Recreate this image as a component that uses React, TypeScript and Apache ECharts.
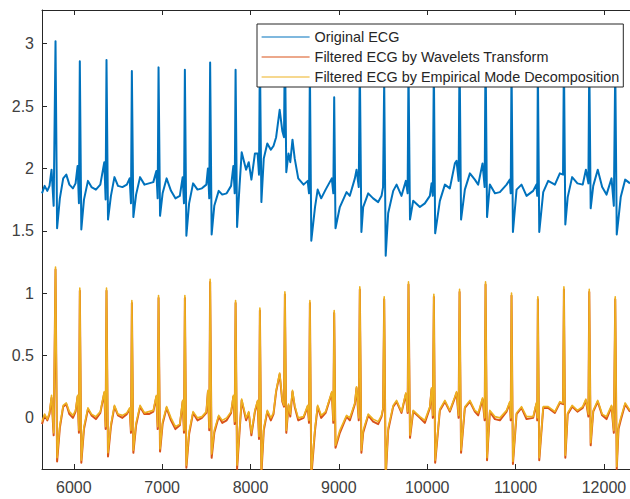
import React, { useEffect, useRef } from "react";
import * as echarts from "echarts";

// Sample positions (x) shared by the three traces
const sampleTimes = [
  5640, 5670, 5700, 5725,
  5748, 5772, 5793, 5811, 5842, 5880, 5915, 5950, 5990, 6020,
  6043, 6058, 6068, 6085, 6115, 6160, 6200, 6250, 6300,
  6345, 6360, 6370, 6387, 6420, 6460, 6500, 6550, 6600,
  6632, 6647, 6657, 6674, 6705, 6750, 6800, 6850, 6900,
  6934, 6949, 6959, 6976, 7005, 7050, 7100, 7150, 7200,
  7232, 7247, 7257, 7274, 7305, 7350, 7400, 7450, 7500,
  7518, 7533, 7543, 7560, 7590, 7640, 7680, 7730, 7780,
  7806, 7821, 7831, 7848, 7875, 7900, 7950, 7980, 8010, 8050, 8080,
  8096, 8106, 8123, 8150, 8190, 8230, 8260, 8290, 8330, 8360, 8379,
  8389, 8405, 8430, 8450, 8475, 8500, 8540, 8600, 8647, 8662,
  8672, 8688, 8730, 8760, 8800, 8850, 8920, 8937,
  8947, 8962, 9011, 9087, 9124, 9181, 9200, 9225,
  9237, 9255, 9275, 9332, 9388, 9445, 9483, 9500,
  9513, 9530, 9558, 9615, 9653, 9709, 9758, 9778,
  9788, 9805, 9841, 9917, 9973, 10030, 10049, 10063,
  10075, 10090, 10143, 10200, 10256, 10313, 10332, 10355,
  10366, 10383, 10426, 10483, 10539, 10577, 10626, 10650,
  10660, 10677, 10709, 10766, 10822, 10898, 10935, 10945,
  10954, 10970, 11011, 11067, 11124, 11199, 11235, 11245,
  11252, 11268, 11313, 11369, 11445, 11501, 11537,
  11547, 11563, 11590, 11640, 11700, 11760, 11796, 11824,
  11834, 11850, 11879, 11930, 11980, 12029, 12086, 12112,
  12128, 12145, 12165, 12190, 12240, 12295,
];

const originalEcg = [
  1.80, 1.86, 1.82, 1.86,
  1.99, 1.70, 3.02, 1.52, 1.76, 1.92, 1.95, 1.87, 1.84, 1.88,
  2.02, 1.72, 2.86, 1.51, 1.75, 1.90, 1.85, 1.83, 1.87,
  2.05, 1.75, 2.87, 1.59, 1.78, 1.93, 1.86, 1.85, 1.87,
  1.92, 1.72, 2.78, 1.61, 1.79, 1.93, 1.87, 1.88, 1.89,
  1.98, 1.76, 2.81, 1.62, 1.80, 1.92, 1.82, 1.76, 1.78,
  1.93, 1.72, 2.79, 1.46, 1.72, 1.88, 1.83, 1.84, 1.87,
  2.00, 1.76, 2.85, 1.47, 1.70, 1.82, 1.79, 1.80, 1.86,
  2.02, 1.80, 2.79, 1.53, 1.85, 2.13, 1.99, 2.05, 1.91, 2.12, 2.12,
  1.95, 2.95, 1.73, 2.08, 2.20, 2.15, 2.18, 2.25, 2.47, 2.30, 2.25,
  3.05, 1.97, 2.12, 2.05, 2.23, 2.08, 1.92, 1.87, 1.90, 1.80,
  2.80, 1.42, 1.69, 1.83, 1.76, 1.83, 1.92, 1.80,
  2.57, 1.52, 1.69, 1.81, 1.78, 1.92, 1.99, 1.85,
  2.85, 1.49, 1.69, 1.80, 1.76, 1.73, 1.78, 1.85,
  2.70, 1.30, 1.64, 1.82, 1.87, 1.78, 1.90, 1.80,
  2.82, 1.59, 1.74, 1.69, 1.72, 1.78, 1.88, 1.78,
  2.82, 1.48, 1.74, 1.87, 1.84, 2.04, 2.06, 1.90,
  2.93, 1.59, 1.83, 1.96, 1.91, 1.87, 2.04, 1.85,
  2.97, 1.61, 1.87, 1.80, 1.81, 1.87, 1.91, 1.80,
  2.85, 1.49, 1.83, 1.87, 1.78, 1.82, 1.87, 1.78,
  2.82, 1.49, 1.81, 1.90, 1.87, 1.96, 1.95,
  2.90, 1.55, 1.77, 1.93, 1.88, 1.87, 1.99, 1.88,
  2.88, 1.68, 1.86, 1.99, 1.85, 1.79, 1.92, 1.70,
  2.82, 1.47, 1.60, 1.77, 1.91, 1.88,
];

const waveletEcg = [
  -0.05, 0.02, -0.02, 0.03,
  0.16, -0.14, 1.19, -0.35, -0.08, 0.09, 0.11, 0.03, 0.00, 0.05,
  0.17, -0.12, 1.02, -0.36, -0.09, 0.07, 0.02, -0.01, 0.04,
  0.20, -0.09, 1.02, -0.31, -0.07, 0.09, 0.02, 0.00, 0.03,
  0.07, -0.12, 0.92, -0.28, -0.06, 0.09, 0.03, 0.03, 0.05,
  0.17, -0.09, 0.96, -0.27, -0.05, 0.08, -0.02, -0.09, -0.06,
  0.13, -0.12, 0.96, -0.40, -0.13, 0.04, -0.02, 0.00, 0.04,
  0.21, -0.10, 1.09, -0.32, -0.12, 0.01, -0.04, -0.02, 0.04,
  0.17, -0.05, 0.92, -0.41, -0.12, 0.14, -0.02, 0.04, -0.14, 0.05, 0.13,
  -0.17, 0.86, -0.45, -0.10, 0.05, -0.02, 0.03, 0.21, 0.35, 0.13, 0.09,
  0.99, -0.12, 0.10, 0.01, 0.21, 0.09, -0.02, 0.00, 0.09, -0.04,
  0.92, -0.47, -0.10, 0.09, 0.00, 0.04, 0.20, -0.04,
  0.84, -0.24, -0.12, 0.01, -0.02, 0.11, 0.24, -0.02,
  1.03, -0.28, -0.12, 0.02, -0.03, -0.05, 0.01, 0.07,
  0.95, -0.48, -0.10, 0.09, 0.13, 0.04, 0.19, 0.04,
  1.07, -0.16, 0.05, 0.00, -0.04, 0.08, 0.23, 0.00,
  0.97, -0.36, 0.06, 0.13, 0.05, 0.16, 0.20, 0.00,
  1.01, -0.28, 0.08, 0.13, 0.05, 0.02, 0.15, -0.02,
  1.07, -0.34, 0.05, -0.01, -0.02, 0.05, 0.12, -0.02,
  0.98, -0.37, 0.03, 0.08, -0.01, 0.00, 0.11, -0.02,
  0.95, -0.34, 0.08, 0.08, 0.04, 0.12, 0.11,
  1.03, -0.32, 0.03, 0.09, 0.05, 0.08, 0.14, 0.01,
  1.01, -0.22, 0.05, 0.13, 0.02, -0.01, 0.09, -0.12,
  0.95, -0.41, -0.09, -0.02, 0.11, 0.05,
];

const emdEcg = [
  -0.03, 0.03, -0.01, 0.04,
  0.18, -0.12, 1.21, -0.32, -0.06, 0.10, 0.12, 0.05, 0.02, 0.06,
  0.18, -0.10, 1.04, -0.34, -0.07, 0.08, 0.03, 0.01, 0.05,
  0.21, -0.07, 1.04, -0.28, -0.05, 0.10, 0.03, 0.02, 0.04,
  0.08, -0.10, 0.94, -0.26, -0.04, 0.10, 0.04, 0.05, 0.06,
  0.18, -0.07, 0.98, -0.25, -0.03, 0.09, 0.00, -0.07, -0.05,
  0.14, -0.10, 0.98, -0.38, -0.11, 0.05, 0.00, 0.01, 0.05,
  0.22, -0.08, 1.11, -0.29, -0.10, 0.02, -0.02, 0.00, 0.05,
  0.18, -0.03, 0.94, -0.38, -0.10, 0.15, 0.00, 0.05, -0.12, 0.06, 0.14,
  -0.15, 0.88, -0.42, -0.08, 0.06, 0.00, 0.04, 0.22, 0.36, 0.14, 0.10,
  1.01, -0.10, 0.11, 0.03, 0.22, 0.10, 0.00, 0.01, 0.10, -0.02,
  0.94, -0.44, -0.08, 0.10, 0.02, 0.05, 0.21, -0.02,
  0.86, -0.22, -0.10, 0.02, 0.00, 0.12, 0.25, 0.00,
  1.05, -0.26, -0.10, 0.03, -0.01, -0.03, 0.02, 0.08,
  0.97, -0.46, -0.08, 0.10, 0.14, 0.05, 0.20, 0.05,
  1.09, -0.14, 0.06, 0.01, -0.02, 0.09, 0.24, 0.02,
  0.99, -0.34, 0.07, 0.14, 0.06, 0.17, 0.21, 0.02,
  1.03, -0.26, 0.09, 0.14, 0.06, 0.04, 0.16, 0.00,
  1.09, -0.32, 0.06, 0.01, 0.00, 0.06, 0.13, 0.00,
  1.00, -0.35, 0.04, 0.09, 0.01, 0.01, 0.12, 0.00,
  0.97, -0.32, 0.09, 0.09, 0.05, 0.13, 0.12,
  1.05, -0.30, 0.04, 0.10, 0.06, 0.09, 0.15, 0.03,
  1.03, -0.20, 0.06, 0.14, 0.03, 0.01, 0.10, -0.10,
  0.97, -0.39, -0.07, 0.00, 0.12, 0.06,
];

const xTickValues = [6000, 7000, 8000, 9000, 10000, 11000, 12000];
const yTickValues = [0, 0.5, 1, 1.5, 2, 2.5, 3];
const seriesNames = [
  "Original ECG",
  "Filtered ECG by Wavelets Transform",
  "Filtered ECG by Empirical Mode Decomposition",
];
const seriesColors = ["#0072BD", "#D95319", "#EDB120"];

export default function App() {
  const ref = useRef<HTMLDivElement>(null);

  useEffect(() => {
    document.body.style.margin = "0";
    if (!ref.current) return;
    const chart = echarts.init(ref.current, null, { renderer: "svg" });
    const toPairs = (vals: number[]) =>
      sampleTimes.slice(0, vals.length).map((t, i) => [t, vals[i]]);
    const axisColor = "#262626";
    const font = "'Liberation Sans', Arial, Helvetica, sans-serif";
    const valueSets = [originalEcg, waveletEcg, emdEcg];
    const widths = [2, 2, 1.6];

    const xAxisBase = {
      type: "value",
      min: 5640,
      max: 12295,
      gridIndex: 0,
      axisLine: { show: true, onZero: false, lineStyle: { color: axisColor, width: 1 } },
      axisTick: {
        show: true,
        inside: true,
        length: 5,
        customValues: xTickValues,
        lineStyle: { color: axisColor, width: 1 },
      },
      splitLine: { show: false },
    };

    chart.setOption({
      animation: false,
      backgroundColor: "#ffffff",
      textStyle: { fontFamily: font },
      grid: { left: 42, top: 10, right: 0, bottom: 30, containLabel: false },
      xAxis: [
        {
          ...xAxisBase,
          position: "bottom",
          axisLabel: {
            customValues: xTickValues,
            formatter: (v: number) => String(v),
            fontSize: 16,
            color: "#404040",
            margin: 10,
            fontFamily: font,
          },
        },
        {
          ...xAxisBase,
          position: "top",
          axisLabel: { show: false },
        },
      ],
      yAxis: [
        {
          type: "value",
          min: -0.41,
          max: 3.27,
          axisLine: { show: true, onZero: false, lineStyle: { color: axisColor, width: 1 } },
          axisTick: {
            show: true,
            inside: true,
            length: 5,
            customValues: yTickValues,
            lineStyle: { color: axisColor, width: 1 },
          },
          axisLabel: {
            customValues: yTickValues,
            formatter: (v: number) => String(v),
            fontSize: 16,
            color: "#404040",
            margin: 8,
            fontFamily: font,
          },
          splitLine: { show: false },
        },
      ],
      legend: {
        orient: "vertical",
        left: 257,
        top: 24,
        backgroundColor: "#ffffff",
        borderColor: axisColor,
        borderWidth: 1,
        borderRadius: 0,
        padding: [6, 4, 3, 4],
        itemWidth: 48,
        itemHeight: 14,
        itemGap: 6,
        z: 10,
        itemStyle: { opacity: 0, borderWidth: 0 },
        lineStyle: { width: 1.2 },
        textStyle: { fontSize: 14.4, color: "#262626", fontFamily: font },
        data: seriesNames,
      },
      series: seriesNames.map((name, i) => ({
        name,
        type: "line",
        xAxisIndex: 0,
        yAxisIndex: 0,
        data: toPairs(valueSets[i]),
        showSymbol: false,
        symbol: "none",
        clip: true,
        z: 2 + i,
        color: seriesColors[i],
        itemStyle: { color: seriesColors[i] },
        lineStyle: { color: seriesColors[i], width: widths[i], join: "round" },
      })),
    });

    return () => {
      chart.dispose();
    };
  }, []);

  return <div ref={ref} style={{ width: 630, height: 499 }} />;
}
